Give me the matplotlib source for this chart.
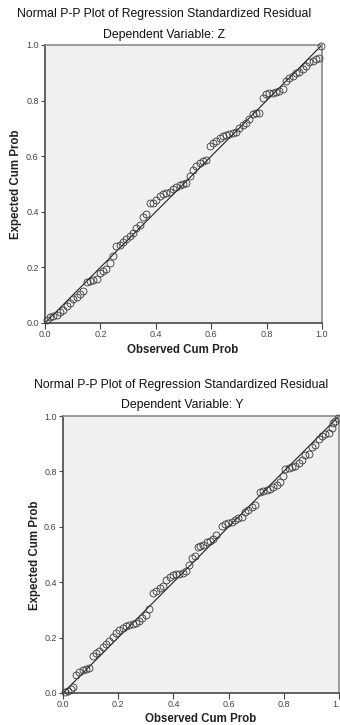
import matplotlib
matplotlib.use("Agg")
import matplotlib.pyplot as plt

plt.rcParams['font.family'] = ['Liberation Sans', 'DejaVu Sans']

# P-P plot data (observed cum prob, expected cum prob)
z_obs = [0.006, 0.018, 0.030, 0.042, 0.054, 0.066, 0.078, 0.090, 0.102, 0.114,
         0.126, 0.138, 0.150, 0.162, 0.174, 0.186, 0.198, 0.210, 0.222, 0.234,
         0.246, 0.258, 0.270, 0.282, 0.294, 0.306, 0.318, 0.330, 0.342, 0.354,
         0.366, 0.378, 0.390, 0.402, 0.414, 0.426, 0.438, 0.450, 0.462, 0.474,
         0.486, 0.498, 0.510, 0.522, 0.534, 0.546, 0.558, 0.570, 0.582, 0.594,
         0.606, 0.618, 0.630, 0.642, 0.654, 0.666, 0.678, 0.690, 0.702, 0.714,
         0.726, 0.738, 0.750, 0.762, 0.774, 0.786, 0.798, 0.810, 0.822, 0.834,
         0.846, 0.858, 0.870, 0.882, 0.894, 0.906, 0.918, 0.930, 0.942, 0.954,
         0.966, 0.978, 0.990, 0.997]
z_exp = [0.011, 0.020, 0.025, 0.030, 0.038, 0.048, 0.060, 0.073, 0.085, 0.092,
         0.104, 0.115, 0.146, 0.150, 0.154, 0.157, 0.180, 0.186, 0.193, 0.216,
         0.240, 0.276, 0.282, 0.290, 0.303, 0.313, 0.325, 0.343, 0.352, 0.380,
         0.391, 0.430, 0.433, 0.442, 0.458, 0.463, 0.466, 0.470, 0.483, 0.491,
         0.497, 0.500, 0.503, 0.530, 0.550, 0.565, 0.576, 0.582, 0.588, 0.638,
         0.648, 0.656, 0.665, 0.671, 0.676, 0.681, 0.684, 0.688, 0.700, 0.711,
         0.719, 0.735, 0.752, 0.755, 0.757, 0.808, 0.822, 0.826, 0.829, 0.832,
         0.836, 0.842, 0.871, 0.880, 0.889, 0.898, 0.904, 0.912, 0.924, 0.938,
         0.944, 0.950, 0.955, 0.996]

y_obs = [0.007, 0.019, 0.028, 0.037, 0.047, 0.059, 0.071, 0.083, 0.095, 0.108,
         0.120, 0.132, 0.144, 0.156, 0.168, 0.180, 0.192, 0.204, 0.216, 0.228,
         0.240, 0.252, 0.264, 0.276, 0.288, 0.300, 0.312, 0.326, 0.338, 0.350,
         0.362, 0.374, 0.386, 0.398, 0.410, 0.422, 0.434, 0.446, 0.456, 0.466,
         0.478, 0.488, 0.498, 0.508, 0.520, 0.532, 0.544, 0.556, 0.575, 0.587,
         0.599, 0.611, 0.623, 0.635, 0.647, 0.659, 0.671, 0.684, 0.696, 0.714,
         0.726, 0.738, 0.750, 0.762, 0.774, 0.786, 0.798, 0.806, 0.818, 0.830,
         0.842, 0.854, 0.866, 0.878, 0.890, 0.902, 0.914, 0.926, 0.938, 0.950,
         0.962, 0.973, 0.980, 0.987, 0.995]
y_exp = [0.002, 0.006, 0.014, 0.023, 0.065, 0.076, 0.082, 0.086, 0.090, 0.134,
         0.143, 0.153, 0.165, 0.177, 0.189, 0.203, 0.216, 0.226, 0.236, 0.242,
         0.245, 0.249, 0.254, 0.261, 0.270, 0.282, 0.305, 0.361, 0.369, 0.378,
         0.387, 0.408, 0.420, 0.426, 0.428, 0.431, 0.434, 0.440, 0.462, 0.488,
         0.494, 0.528, 0.531, 0.534, 0.545, 0.550, 0.557, 0.570, 0.602, 0.609,
         0.613, 0.618, 0.625, 0.631, 0.637, 0.654, 0.661, 0.670, 0.679, 0.727,
         0.730, 0.733, 0.738, 0.745, 0.751, 0.763, 0.783, 0.808, 0.811, 0.815,
         0.818, 0.829, 0.841, 0.858, 0.863, 0.888, 0.895, 0.918, 0.927, 0.934,
         0.940, 0.956, 0.975, 0.983, 0.993]

ticks = [0.0, 0.2, 0.4, 0.6, 0.8, 1.0]
tick_labels = ["0.0", "0.2", "0.4", "0.6", "0.8", "1.0"]

fig = plt.figure(figsize=(3.4, 7.25), dpi=100)
fig.patch.set_facecolor("white")


def pp_panel(rect, obs, exp):
    ax = fig.add_axes(rect)
    ax.set_facecolor("#f0f0f0")
    ax.plot([0, 1], [0, 1], color="#222222", lw=0.8, zorder=2)
    ax.plot(obs, exp, ls="none", marker="o", ms=5, mfc="none",
            mec="#3a3a3a", mew=0.6, zorder=3, clip_on=False)
    ax.set_xlim(0, 1)
    ax.set_ylim(0, 1)
    ax.set_xticks(ticks)
    ax.set_xticklabels(tick_labels)
    ax.set_yticks(ticks)
    ax.set_yticklabels(tick_labels)
    ax.tick_params(direction="out", length=3, width=0.8, colors="#444444",
                   labelsize=6.5, pad=1.5)
    ax.tick_params(axis="x", length=4, pad=1)
    for side in ["left", "bottom"]:
        ax.spines[side].set_color("#555555")
        ax.spines[side].set_linewidth(1.3)
    for side in ["top", "right"]:
        ax.spines[side].set_color("#8c8c8c")
        ax.spines[side].set_linewidth(1.2)
    return ax


# top panel: dependent variable Z
ax1 = pp_panel([45 / 340, (725 - 323) / 725, 277 / 340, 278 / 725], z_obs, z_exp)
fig.text(164 / 340, 1 - 14 / 725, "Normal P-P Plot of Regression Standardized Residual",
         ha="center", va="center", fontsize=8.8, color="#111111")
fig.text(164 / 340, 1 - 35 / 725, "Dependent Variable: Z",
         ha="center", va="center", fontsize=8.8, color="#111111")
fig.text(183 / 340, 1 - 350 / 725, "Observed Cum Prob", ha="center", va="center",
         fontsize=8.3, fontweight="bold", color="#222222")
fig.text(16 / 340, 1 - 184 / 725, "Expected Cum Prob", ha="center", va="center",
         rotation=90, fontsize=8.3, fontweight="bold", color="#222222")

# bottom panel: dependent variable Y
ax2 = pp_panel([63 / 340, (725 - 693) / 725, 276 / 340, 277 / 725], y_obs, y_exp)
fig.text(181 / 340, 1 - 385 / 725, "Normal P-P Plot of Regression Standardized Residual",
         ha="center", va="center", fontsize=8.8, color="#111111")
fig.text(182 / 340, 1 - 405 / 725, "Dependent Variable: Y",
         ha="center", va="center", fontsize=8.8, color="#111111")
fig.text(201 / 340, 1 - 719 / 725, "Observed Cum Prob", ha="center", va="center",
         fontsize=8.3, fontweight="bold", color="#222222")
fig.text(35 / 340, 1 - 555 / 725, "Expected Cum Prob", ha="center", va="center",
         rotation=90, fontsize=8.3, fontweight="bold", color="#222222")

fig.savefig("out.png", dpi=100, facecolor="white")
